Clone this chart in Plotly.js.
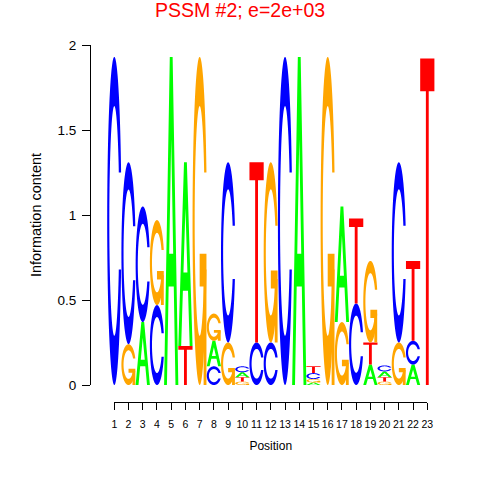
<!DOCTYPE html>
<html><head><meta charset="utf-8">
<script src="https://cdn.plot.ly/plotly-3.0.1.min.js"></script>
<style>html,body{margin:0;padding:0;background:#fff}#chart{width:480px;height:480px}</style>
</head><body><div id="chart"></div>
<script>
// ---- data ----
const positions = [1,2,3,4,5,6,7,8,9,10,11,12,13,14,15,16,17,18,19,20,21,22,23];
const tickLabels = ['1','2','3','4','5','6','7','8','9','10','11','12','13','14','15','16','17','18','19','20','21','22','23'];
const letters = ['A','C','G','T'];
const heightA = [0,    0,    0.37, 0,    1.93, 1.08, 0,    0.15, 0,    0.03,  0,    0,    0,    1.93, 0.015, 0,    0.68, 0,    0.12, 0.035, 0,    0.12, 0];
const heightC = [1.93, 1.07, 0.68, 0.47, 0,    0,    0,    0.11, 1.06, 0.035, 0.25, 0.25, 1.93, 0,    0.035, 0,    0,    0.48, 0,    0.035, 1.06, 0.14, 0];
const heightG = [0,    0.24, 0,    0.50, 0,    0,    1.93, 0.16, 0.25, 0.02,  0,    1.06, 0,    0,    0.02,  1.93, 0.37, 0,    0.48, 0.02,  0.25, 0,    0];
const heightT = [0,    0,    0,    0,    0,    0.23, 0,    0,    0,    0.025, 1.06, 0,    0,    0,    0.04,  0,    0,    0.50, 0.13, 0.025, 0,    0.47, 1.92];
const yTickVals = [0, 0.5, 1, 1.5, 2];
const yTickText = ['0', '0.5', '1', '1.5', '2'];
const letterColors = {A:'#00FF00', C:'#0000FF', G:'#FFA500', T:'#FF0000'};

// ---- glyph outlines in a unit box ----
function seq(a,b,n){const r=[];for(let i=0;i<n;i++)r.push(a+(b-a)*i/(n-1));return r;}
function ring(){
  const N=60;
  const a1=seq(0.3+Math.PI/2, Math.PI, N), a2=seq(Math.PI, 1.5*Math.PI, N);
  const xl=a1.concat(a2).map(a=>0.5+0.5*Math.sin(a));
  const yl=a1.concat(a2).map(a=>0.5+0.5*Math.cos(a));
  const yl1=a1.map(a=>0.5+0.5*Math.cos(a));
  const maxY=Math.max(...yl1);
  const x=xl.concat(xl.slice().reverse());
  const y=yl.concat(yl.slice().reverse().map(v=>1-v));
  const xi1=[],yi1=[];
  a1.forEach(a=>{const yy=0.5+0.35*Math.cos(a); if(yy<=maxY){xi1.push(0.5+0.35*Math.sin(a)); yi1.push(yy);}});
  yi1[0]=maxY;
  const xi=xi1.concat(a2.map(a=>0.5+0.35*Math.sin(a)));
  const yi=yi1.concat(a2.map(a=>0.5+0.35*Math.cos(a)));
  const x1=xi.concat(xi.slice().reverse());
  const y1=yi.concat(yi.slice().reverse().map(v=>1-v));
  const X=x.concat(x1.slice().reverse()), Y=y.concat(y1.slice().reverse());
  return X.map((v,i)=>[v,Y[i]]);
}
const R1 = 0.5+0.5*Math.sin(0.3+Math.PI/2);
const glyphs = {
  A: [[ [[0,0],[0.4,1],[0.6,1],[1,0],[0.8,0],[0.68,0.3],[0.32,0.3],[0.2,0]], [[0.36,0.4],[0.5,0.75],[0.64,0.4]] ]],
  C: [[ ring() ]],
  G: [[ ring() ], [ [[R1,0.4],[0.5,0.4],[0.5,0.3],[R1-0.2,0.3],[R1-0.2,0],[R1,0]] ]],
  T: [[ [[0,1],[1,1],[1,0.9],[0.6,0.9],[0.6,0],[0.4,0],[0.4,0.9],[0,0.9]] ]]
};

// ---- build letter stacks ----
const heights = {A:heightA, C:heightC, G:heightG, T:heightT};
const shapes = [];
positions.forEach((pos, j) => {
  const col = letters.map((L,i)=>({L, h:heights[L][j], i})).sort((a,b)=>a.h-b.h || a.i-b.i);
  let base = 0;
  col.forEach(({L,h}) => {
    if (h <= 0) return;
    glyphs[L].forEach(sub => {
      const path = sub.map(poly => 'M' + poly.map(([px,py]) =>
        (pos-0.5+px).toFixed(4)+','+(base+py*h).toFixed(5)).join('L') + 'Z').join(' ');
      shapes.push({type:'path', xref:'x', yref:'y', path, fillcolor:letterColors[L],
        line:{width:0}, fillrule:'evenodd', layer:'above'});
    });
    base += h;
  });
});

// ---- geometry ----
const W=480, H=480;
const xPx1=114.3, xPx23=427.3, yPx0=385, yPx2=45;
const kx=(xPx23-xPx1)/22, ky=(yPx0-yPx2)/2;
const xr0 = 1 - xPx1/kx, xr1 = xr0 + W/kx;
const yr0 = -(H-yPx0)/ky, yr1 = yPx0/ky;

const font = 'Liberation Sans, Arial, Helvetica, sans-serif';
const layout = {
  width:W, height:H, margin:{l:0,r:0,t:0,b:0,pad:0},
  paper_bgcolor:'#ffffff', plot_bgcolor:'rgba(0,0,0,0)', showlegend:false,
  font:{family:font, color:'#000000'},
  title:{text:'PSSM #2; e=2e+03', font:{family:font, size:19.5, color:'#FF0000'},
         x:0.5, xanchor:'center', xref:'paper', y:1-10/H, yref:'container', yanchor:'middle'},
  xaxis:{domain:[0,1], range:[xr0,xr1], visible:false, fixedrange:true},
  yaxis:{domain:[0,1], range:[yr0,yr1], visible:false, fixedrange:true},
  xaxis2:{domain:[xPx1/W, xPx23/W], range:[1,23], anchor:'free', position:(H-402)/H,
    showline:true, linecolor:'#000', linewidth:1, ticks:'outside', ticklen:7, tickcolor:'#000', tickwidth:1,
    tickmode:'array', tickvals:positions, ticktext:tickLabels, tickfont:{size:10.5, family:font},
    ticklabelstandoff:5,
    showgrid:false, zeroline:false, tickangle:0,
    title:{text:'Position', font:{size:12, family:font}, standoff:13}},
  yaxis2:{domain:[(H-yPx0)/H, (H-yPx2)/H], range:[0,2], anchor:'free', position:90/W, side:'left',
    showline:true, linecolor:'#000', linewidth:1, ticks:'outside', ticklen:8, tickcolor:'#000', tickwidth:1,
    tickmode:'array', tickvals:yTickVals, ticktext:yTickText, tickfont:{size:13.5, family:font},
    ticklabelstandoff:3,
    showgrid:false, zeroline:false,
    title:{text:'Information content', font:{size:14.5, family:font}, standoff:11}},
  shapes
};
const data = [{type:'scatter', x:[], y:[], xaxis:'x2', yaxis:'y2', hoverinfo:'skip', showlegend:false}];
Plotly.newPlot('chart', data, layout, {staticPlot:true, displayModeBar:false});
</script></body></html>
